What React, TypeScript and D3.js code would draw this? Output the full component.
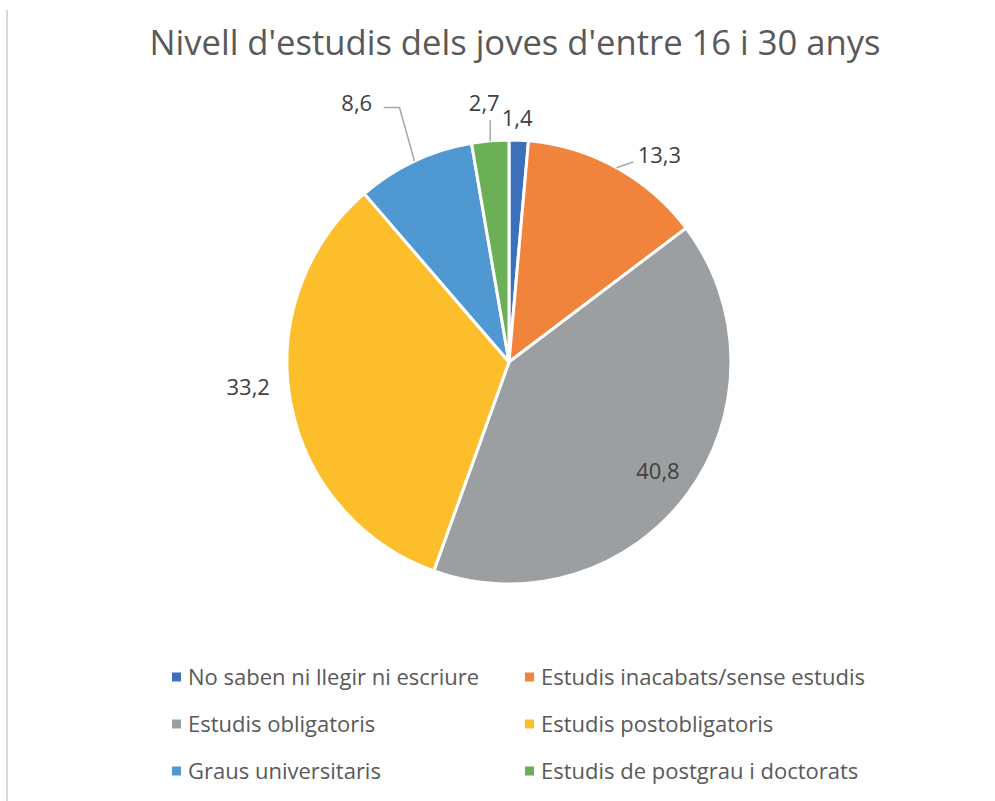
import React from 'react'
import * as d3 from 'd3'

const title = "Nivell d'estudis dels joves d'entre 16 i 30 anys"
const categories = [
  'No saben ni llegir ni escriure',
  'Estudis inacabats/sense estudis',
  'Estudis obligatoris',
  'Estudis postobligatoris',
  'Graus universitaris',
  'Estudis de postgrau i doctorats',
]
const values = [1.4, 13.3, 40.8, 33.2, 8.6, 2.7]
const colors = ['#3d70bb', '#f0843c', '#9c9fa1', '#fdbe2b', '#4f98d2', '#6bb057']

// label placement per slice (Excel "best fit"): angle offset in degrees, radius, leader?
const labelLayout = [
  { da: -0.6, r: 244, leader: false },
  { da: 7, r: 256, leader: true },
  { da: 0, r: 185, leader: false },
  { da: 5, r: 262, leader: false },
  { da: -5.3, r: 300, leader: true },
  { da: -0.6, r: 260, leader: true },
]

const W = 995, H = 801
const cx = 509, cy = 362, R = 222
const font = "'Open Sans', sans-serif"
const fmt = (v: number) => v.toFixed(1).replace('.', ',')

export default function App() {
  const pie = d3.pie<number>().sort(null).value(d => d)
  const arcs = pie(values)
  const arc = d3.arc<d3.PieArcDatum<number>>().innerRadius(0).outerRadius(R)
  const polar = (a: number, r: number) => [Math.sin(a) * r, -Math.cos(a) * r]

  return (
    <svg width={W} height={H} style={{ position: 'absolute', left: 0, top: 0, background: '#fff' }}>
      <line x1={7} x2={7} y1={10} y2={H} stroke="#d9d9d9" strokeWidth={2} />
      <text x={515} y={55} textAnchor="middle" fontFamily={font} fontSize={34.6} fill="#595959">{title}</text>
      <g transform={`translate(${cx},${cy})`}>
        {arcs.map((a, i) => (
          <path key={i} d={arc(a) || ''} fill={colors[i]} stroke="#fff" strokeWidth={3} strokeLinejoin="round" />
        ))}
        {arcs.map((a, i) => {
          const mid = (a.startAngle + a.endAngle) / 2
          const L = labelLayout[i]
          const la = mid + (L.da * Math.PI) / 180
          const [lx, ly] = polar(la, L.r)
          let leader = null
          if (L.leader) {
            const [px, py] = polar(mid, R)
            let pts: [number, number][]
            if (lx < -50) {
              // label above-left: horizontal stub to the right of the text
              pts = [[px, py], [px - 15, ly + 4], [lx + 27, ly + 4]]
            } else if (lx > 50) {
              pts = [[px, py], [lx - 26, ly + 7]]
            } else {
              pts = [[px, py], [px, ly + 17]]
            }
            leader = <path d={d3.line()(pts) || ''} fill="none" stroke="#a6a6a6" strokeWidth={1.5} />
          }
          return (
            <g key={i}>
              {leader}
              <text x={lx} y={ly} dy="0.35em" textAnchor="middle" fontFamily={font} fontSize={22} fill="#404040">{fmt(values[i])}</text>
            </g>
          )
        })}
      </g>
      <g fontFamily={font} fontSize={22} fill="#595959">
        {categories.map((c, i) => {
          const col = i % 2, row = Math.floor(i / 2)
          const x = col === 0 ? 172 : 525
          const y = 677 + row * 47
          return (
            <g key={i} transform={`translate(${x},${y})`}>
              <rect x={0} y={-4.5} width={9} height={9} fill={colors[i]} />
              <text x={16} y={0} dy="0.35em">{c}</text>
            </g>
          )
        })}
      </g>
    </svg>
  )
}
